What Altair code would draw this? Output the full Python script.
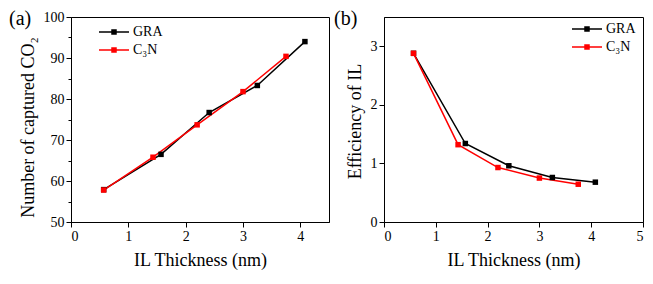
import altair as alt
import pandas as pd

# ---- data ----
series_names = ["GRA", "C₃N"]
gra_thickness = [0.57, 1.57, 2.41, 3.25, 4.08]
gra_captured = [57.9, 66.5, 76.7, 83.3, 94.0]
gra_efficiency = [2.88, 1.34, 0.96, 0.76, 0.68]
c3n_thickness = [0.57, 1.43, 2.20, 3.00, 3.75]
c3n_captured = [57.8, 65.8, 73.7, 81.8, 90.4]
c3n_efficiency = [2.88, 1.32, 0.93, 0.75, 0.645]

xa_ticks = [0, 0.5, 1, 1.5, 2, 2.5, 3, 3.5, 4, 4.5]
ya_ticks = [50, 55, 60, 65, 70, 75, 80, 85, 90, 95, 100]
xb_ticks = [0, 0.5, 1, 1.5, 2, 2.5, 3, 3.5, 4, 4.5, 5]
yb_ticks = [0, 0.5, 1, 1.5, 2, 2.5, 3, 3.5]

FONT = "Liberation Serif"
colors = ["#000000", "#ff0000"]

df = pd.DataFrame({
    "series": [series_names[0]] * len(gra_thickness) + [series_names[1]] * len(c3n_thickness),
    "x": gra_thickness + c3n_thickness,
    "co2": gra_captured + c3n_captured,
    "eff": gra_efficiency + c3n_efficiency,
    "order": list(range(len(gra_thickness))) + list(range(len(c3n_thickness))),
})

SYMBOL = "M-3,0H3M-0.55,-0.4H0.55M-0.55,-0.2H0.55M-0.55,0.2H0.55M-0.55,0.4H0.55"


def axis(values, title, major_test, tpad, **extra):
    return alt.Axis(
        values=values,
        title=title,
        grid=False,
        format="d",
        labelExpr=f"({major_test}) ? datum.label : ''",
        tickSize={"condition": {"test": major_test, "value": 5}, "value": 3},
        labelFont=FONT, titleFont=FONT, labelFontSize=14, titleFontSize=18,
        titleFontWeight="normal", labelPadding=2, titlePadding=tpad,
        domainColor="black", tickColor="black", labelColor="black", titleColor="black",
        **extra,
    )


def panel(ycol, ydomain, xdomain, xticks, yticks, ytitle, ymajor, label, lx, ly, lblx, w, h, ytitle_y):
    legend = alt.Legend(
        title=None, orient="none", legendX=lx, legendY=ly,
        symbolType=SYMBOL, symbolSize=100, symbolStrokeWidth=1.5,
        labelFont=FONT, labelFontSize=14, labelOffset=12, rowPadding=4,
    )
    base = alt.Chart(df).encode(
        x=alt.X("x:Q", scale=alt.Scale(domain=xdomain, nice=False, zero=False),
                axis=axis(xticks, "IL Thickness (nm)", "datum.value % 1 === 0", 8)),
        y=alt.Y(f"{ycol}:Q", scale=alt.Scale(domain=ydomain, nice=False, zero=False),
                axis=axis(yticks, ytitle, ymajor, 6, titleY=ytitle_y)),
        color=alt.Color("series:N", scale=alt.Scale(domain=series_names, range=colors), legend=legend),
        order="order:Q",
    )
    lines = base.mark_line(strokeWidth=1.5)
    pts = base.mark_point(shape="square", filled=True, size=30, opacity=1)
    txt = alt.Chart(pd.DataFrame({"t": [label]})).mark_text(
        font=FONT, fontSize=20, align="left", baseline="top", color="black"
    ).encode(text="t:N", x=alt.value(lblx), y=alt.value(-8))
    return alt.layer(lines, pts, txt).properties(width=w, height=h)


pa = panel("co2", [50, 100], [0, 4.5], xa_ticks, ya_ticks, "Number of captured CO₂",
           "datum.value % 10 === 0", "(a)", 36, 8, -62, 258, 205, 110)
pb = panel("eff", [0, 3.5], [0, 5], xb_ticks, yb_ticks, "Efficiency of IL",
           "datum.value % 1 === 0", "(b)", 196, 5, -50, 259, 205, 104)

chart = alt.hconcat(pa, pb, spacing=3).resolve_scale(color="independent").resolve_legend(
    color="independent"
).properties(padding=0).configure(font=FONT).configure_view(stroke="black", strokeWidth=1)

chart.save("out.html", embed_options={"renderer": "svg", "actions": False})
